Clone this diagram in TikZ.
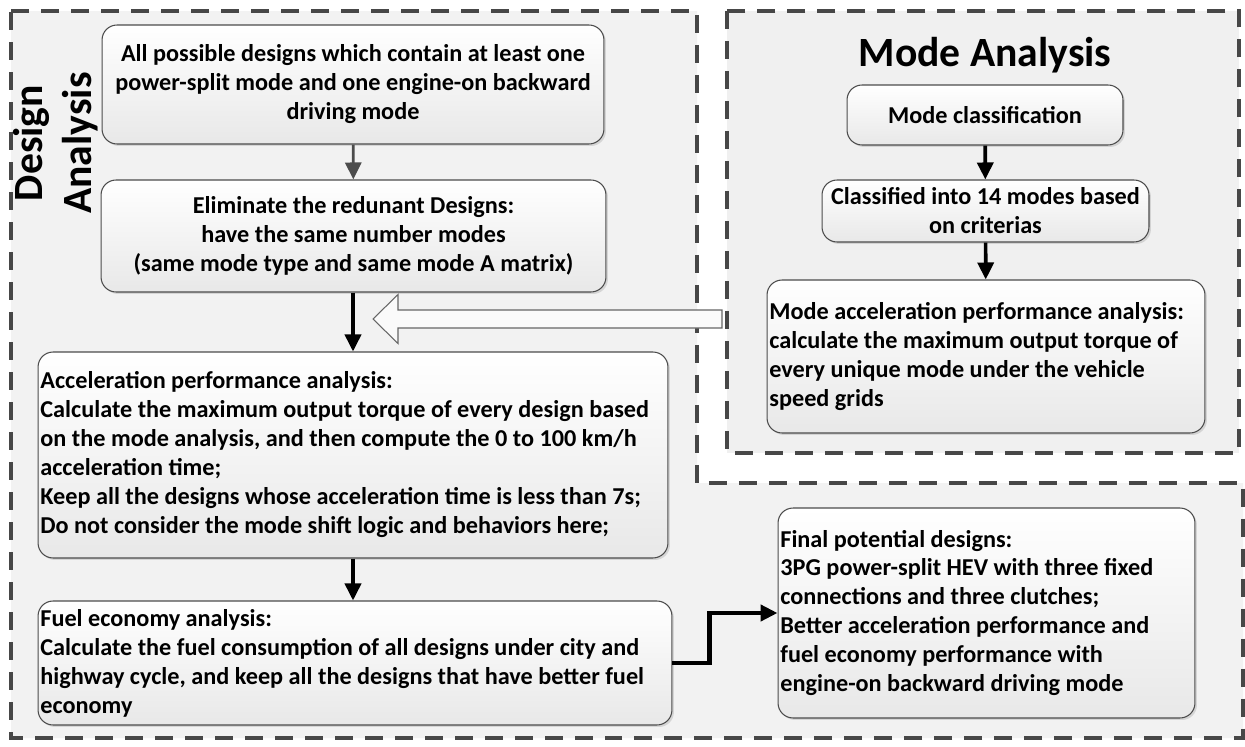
\documentclass[tikz,border=0pt]{standalone}
\usepackage{fontspec}
\setmainfont{Carlito}
\usetikzlibrary{positioning,arrows.meta,shadows}
\tikzset{blk/.style={draw=black!70,line width=0.6pt,rounded corners=0.3cm,top color=white,bottom color=black!9,
drop shadow={opacity=0.25,shadow xshift=0.04cm,shadow yshift=-0.04cm},inner sep=0.05cm,
font=\bfseries\fontsize{13.8pt}{16.5pt}\selectfont},
txt/.style={anchor=west,align=left,inner sep=0.05cm,font=\bfseries\fontsize{13.8pt}{16.5pt}\selectfont},
arr/.style={line width=2.1pt,-{Triangle[length=0.34cm,width=0.32cm]}},
dsh/.style={draw=black!72,line width=1.8pt,dash pattern=on 0.36cm off 0.24cm},
ttl/.style={font=\bfseries\fontsize{23.7pt}{28pt}\selectfont}}
\begin{document}
\begin{tikzpicture}[x=0.02cm,y=-0.02cm]
\useasboundingbox[fill=white] (0,0) rectangle (1245,747);
% frames
\draw[dsh,fill=black!5] (11,11)--(697,11)--(697,483)--(1243,483)--(1243,738)--(11,738)--cycle;
\draw[dsh,fill=black!6] (727,11) rectangle (1239,453);
\node[ttl,rotate=90,align=center] (dtitle) at (56,143) {Design\\Analysis};
\node[ttl] (mtitle) at (985,55) {Mode Analysis};

% design analysis
\node[blk,align=center,minimum width=10.04cm,minimum height=2.38cm] (all) at (353,84.5)
{All possible designs which contain at least one\\power-split mode and one engine-on backward\\driving mode};
\node[blk,align=center,minimum width=10.1cm,minimum height=2.24cm] (elim) at (353.5,236)
{Eliminate the redunant Designs:\\have the same number modes\\(same mode type and same mode A matrix)};
\node[blk,minimum width=12.6cm,minimum height=4.12cm] (accel) at (353,455) {};
\node[txt] (accelT) at (accel.west)
{Acceleration performance analysis:\\
Calculate the maximum output torque of every design based\\
on the mode analysis, and then compute the 0 to 100 km/h\\
acceleration time;\\
Keep all the designs whose acceleration time is less than 7s;\\
Do not consider the mode shift logic and behaviors here;};
\node[blk,minimum width=12.68cm,minimum height=2.48cm] (fuel) at (355,663) {};
\node[txt] (fuelT) at (fuel.west)
{Fuel economy analysis:\\
Calculate the fuel consumption of all designs under city and\\
highway cycle, and keep all the designs that have better fuel\\
economy};
\node[blk,minimum width=8.34cm,minimum height=4.2cm] (final) at (986.5,613) {};
\node[txt] (finalT) at (final.west)
{Final potential designs:\\
3PG power-split HEV with three fixed\\
connections and three clutches;\\
Better acceleration performance and\\
fuel economy performance with\\
engine-on backward driving mode};

% mode analysis
\node[blk,align=center,minimum width=5.52cm,minimum height=1.2cm] (mcls) at (985,115) {Mode classification};
\node[blk,align=center,minimum width=6.54cm,minimum height=1.24cm] (m14) at (985.5,211)
{Classified into 14 modes based\\on criterias};
\node[blk,minimum width=8.76cm,minimum height=3.06cm] (macc) at (986,356.5) {};
\node[txt] (maccT) at (macc.west)
{Mode acceleration performance analysis:\\
calculate the maximum output torque of\\
every unique mode under the vehicle\\
speed grids};

% connectors
\draw[arr,black!70,line width=1.6pt] (all)--(elim);
\draw[arr] (elim.south-|accel.north)--(accel.north);
\draw[arr] (accel.south)--(accel.south|-fuel.north);
\draw[arr,line width=2.4pt] (fuel.east)--++(37,0)|-(final.west);
\draw[arr] (mcls)--(m14);
\draw[arr] (m14)--(macc);
\draw[draw=black!60,fill=black!2,line width=0.6pt] (373,319)--++(25,-24.5)--++(0,15.5)--(722,310)
--(722,328)--(398,328)--++(0,15.5)--cycle;
\end{tikzpicture}
\end{document}
